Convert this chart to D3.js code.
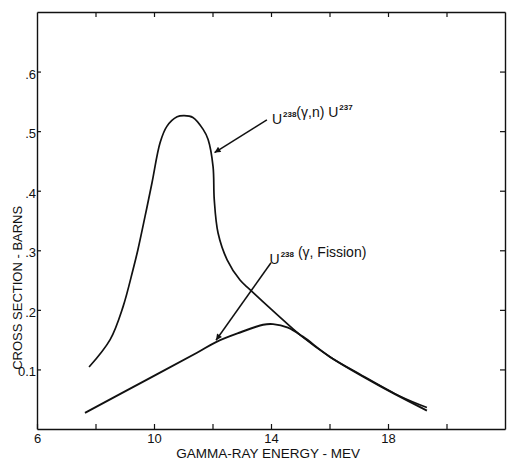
<!DOCTYPE html>
<html>
<head>
<meta charset="utf-8">
<script src="https://cdn.jsdelivr.net/npm/d3@7"></script>
<style>
  body { margin: 0; background: #fff; }
  text { font-family: "Liberation Sans", Arial, sans-serif; fill: #111; }
</style>
</head>
<body>
<script>
/* ------------------------------- chart data ------------------------------- */
// U238 (gamma, n) U237 cross section
const nEnergy = [7.78, 8.50, 8.94, 9.28, 9.45, 9.69, 9.93, 10.21, 10.44, 10.79, 11.03, 11.33, 11.68, 11.85, 12.02, 12.06, 12.19, 12.50, 12.94, 13.28, 14.21, 14.99, 16.02, 17.04, 18.41, 19.33]
const nSigma  = [0.104, 0.150, 0.205, 0.267, 0.301, 0.356, 0.413, 0.481, 0.508, 0.524, 0.526, 0.523, 0.503, 0.486, 0.440, 0.385, 0.329, 0.284, 0.250, 0.234, 0.192, 0.158, 0.121, 0.092, 0.055, 0.036]
// U238 (gamma, fission) cross section
const fEnergy = [7.64, 9.76, 11.47, 12.12, 12.94, 13.73, 14.07, 14.58, 15.09, 16.02, 17.73, 19.33]
const fSigma  = [0.027, 0.083, 0.128, 0.146, 0.162, 0.175, 0.176, 0.170, 0.155, 0.121, 0.072, 0.031]
// ticks
const xTicks = [6, 8, 10, 12, 14, 16, 18, 20]
const xTickLabels = [6, 10, 14, 18]
const yTicks = [0.1, 0.2, 0.3, 0.4, 0.5, 0.6]
// annotations: label anchor and arrow start/tip, in data units
const labelNames = ["n", "fission"]
const labelAt = [[14.03, 0.512], [13.95, 0.277]]
const arrowFrom = [[13.86, 0.519], [14.0, 0.279]]
const arrowTo = [[12.07, 0.464], [12.12, 0.149]]

/* -------------------------------- document -------------------------------- */
const width = 507, height = 460
const margin = { top: 12, right: 2, bottom: 31, left: 37 }

const svg = d3.select("body").append("svg").attr('width', width).attr('height', height)

const x = d3.scaleLinear().domain([6, 22]).range([margin.left, width - margin.right])
const y = d3.scaleLinear().domain([0, 0.7]).range([height - margin.bottom, margin.top])

/* ---------------------------------- axes ---------------------------------- */
const bottom = svg.append("g")
    .attr("transform", `translate(0,${y(0)})`)
    .call(d3.axisBottom(x).tickValues(xTicks).tickSize(-5).tickSizeOuter(0).tickPadding(5)
        .tickFormat(d => xTickLabels.includes(d) ? d : ""))
svg.append("g")
    .attr("transform", `translate(0,${y(0.7)})`)
    .call(d3.axisTop(x).tickValues(xTicks.slice(1)).tickSize(-5).tickSizeOuter(0).tickFormat(""))
const left = svg.append("g")
    .attr("transform", `translate(${x(6)},0)`)
    .call(d3.axisLeft(y).tickValues(yTicks).tickSize(-4).tickSizeOuter(0).tickPadding(1)
        .tickFormat(d => d === 0.1 ? "0.1" : d3.format(".1f")(d).slice(1)))
svg.append("g")
    .attr("transform", `translate(${x(22)},0)`)
    .call(d3.axisRight(y).tickValues(yTicks).tickSize(-5).tickSizeOuter(0).tickFormat(""))

svg.selectAll(".domain").attr("stroke", "#111").attr("stroke-width", 1.4)
svg.selectAll(".tick line").attr("stroke", "#111").attr("stroke-width", 1.2)
svg.selectAll(".tick text").style("font-size", "13px").attr("fill", "#111")
left.selectAll(".tick text").attr("dy", "0.5em")

//axis titles
svg.append("text")
    .attr("x", x(13.9)).attr("y", 458)
    .attr("text-anchor", "middle")
    .style("font-size", "13.5px")
    .text("GAMMA-RAY ENERGY - MEV")
svg.append("text")
    .attr("transform", `translate(17,${y(0.237)}) rotate(-90)`)
    .attr("text-anchor", "middle")
    .attr("dy", "0.35em")
    .style("font-size", "13px")
    .text("CROSS SECTION - BARNS")

/* --------------------------------- curves --------------------------------- */
const line = d3.line()
    .x(d => x(d[0]))
    .y(d => y(d[1]))
    .curve(d3.curveCatmullRom.alpha(0.5))

svg.append("path")
    .datum(nEnergy.map((e, i) => [e, nSigma[i]]))
    .attr("d", line)
    .attr("fill", "none").attr("stroke", "#111").attr("stroke-width", 1.7)
svg.append("path")
    .datum(fEnergy.map((e, i) => [e, fSigma[i]]))
    .attr("d", line)
    .attr("fill", "none").attr("stroke", "#111").attr("stroke-width", 1.9)

/* ------------------------------- annotations ------------------------------ */
svg.append("defs").append("marker")
    .attr("id", "head")
    .attr("viewBox", "0 0 10 10")
    .attr("refX", 10).attr("refY", 5)
    .attr("markerWidth", 10).attr("markerHeight", 6)
    .attr("markerUnits", "userSpaceOnUse")
    .attr("orient", "auto")
    .append("path").attr("d", "M0,0L10,5L0,10Z").attr("fill", "#111")

labelNames.forEach((n, i) => {
    svg.append("line")
        .attr("x1", x(arrowFrom[i][0])).attr("y1", y(arrowFrom[i][1]))
        .attr("x2", x(arrowTo[i][0])).attr("y2", y(arrowTo[i][1]))
        .attr("stroke", "#111").attr("stroke-width", 1.5)
        .attr("marker-end", "url(#head)")
})

function supLabel(pos, parts) {
    const t = svg.append("text")
        .attr("x", x(pos[0])).attr("y", y(pos[1]))
        .style("font-size", "14px")
    parts.forEach(p => {
        if (p.sup) {
            t.append("tspan").attr("dx", 1).attr("dy", -7).style("font-size", "8px").style("font-weight", "bold").text(p.sup)
            t.append("tspan").attr("dy", 7).text("")
        } else {
            t.append("tspan").text(p.t)
        }
    })
}
supLabel(labelAt[0], [{ t: "U" }, { sup: "238" }, { t: "(\u03b3,n)  U" }, { sup: "237" }])
supLabel(labelAt[1], [{ t: "U" }, { sup: "238" }, { t: " (\u03b3, Fission)" }])
</script>
</body>
</html>
